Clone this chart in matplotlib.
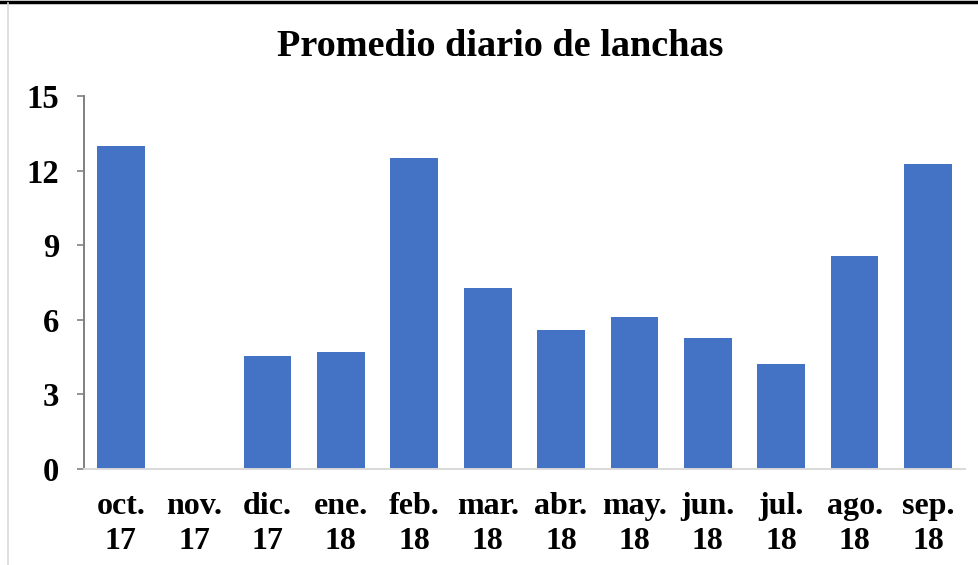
import matplotlib
matplotlib.use("Agg")
import matplotlib.pyplot as plt
from matplotlib.lines import Line2D

months = ["oct.\n17", "nov.\n17", "dic.\n17", "ene.\n18", "feb.\n18", "mar.\n18",
          "abr.\n18", "may.\n18", "jun.\n18", "jul.\n18", "ago.\n18", "sep.\n18"]
lanchas = [13.0, 0.0, 4.53, 4.69, 12.49, 7.28, 5.58, 6.11, 5.26, 4.2, 8.57, 12.25]
y_ticks = [0, 3, 6, 9, 12, 15]

plt.rcParams["font.family"] = ["Liberation Serif", "DejaVu Serif"]
plt.rcParams["font.weight"] = "bold"

fig = plt.figure(figsize=(9.79, 5.65), dpi=100)
ax = fig.add_axes([84 / 979, 1 - 468.7 / 565, (964.7 - 84) / 979, (468.7 - 96) / 565])

x = range(len(months))
ax.bar(x, lanchas, width=0.65, color="#4472C4")

ax.set_xlim(-0.5, len(months) - 0.5)
ax.set_ylim(0, 15)
ax.set_yticks(y_ticks)
ax.set_xticks(list(x))
ax.set_xticklabels(months, fontsize=23, fontweight="bold", linespacing=1.3)
ax.set_yticklabels([str(v) for v in y_ticks], fontsize=23.5, fontweight="bold")

ax.tick_params(axis="x", length=0, pad=16.5)
ax.tick_params(axis="y", length=5, width=1.2, color="#808080", pad=13)

for side in ["top", "right"]:
    ax.spines[side].set_visible(False)
ax.spines["left"].set_color("#808080")
ax.spines["left"].set_linewidth(1.4)
ax.spines["bottom"].set_color("#D9D9D9")
ax.spines["bottom"].set_linewidth(1.4)

fig.text(0.511, 1 - 46 / 565, "Promedio diario de lanchas", ha="center", va="center",
         fontsize=27.5, fontweight="bold")

# frame pieces seen in the screenshot
fig.add_artist(Line2D([0, 1], [1 - 1.5 / 565, 1 - 1.5 / 565], transform=fig.transFigure,
                      color="black", linewidth=2.5))
fig.add_artist(Line2D([8.5 / 979, 8.5 / 979], [0, 1 - 3 / 565], transform=fig.transFigure,
                      color="#D9D9D9", linewidth=1.2))

fig.savefig("out.png", dpi=100)
plt.close(fig)
